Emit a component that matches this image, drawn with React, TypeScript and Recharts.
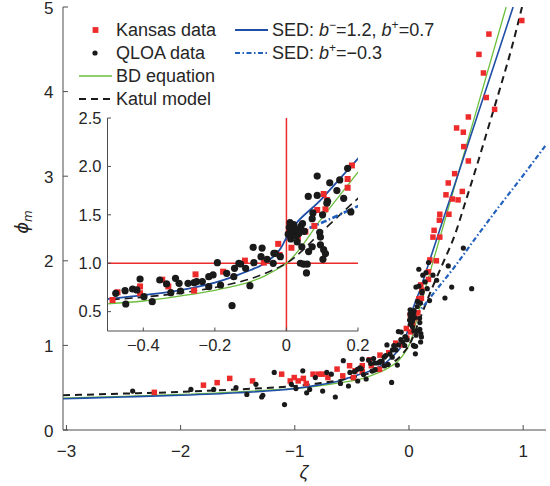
import React from 'react';
import { ComposedChart, Line, Scatter, XAxis, YAxis, ReferenceLine, ReferenceArea } from 'recharts';

const AXIS = '#4d4d4d';
const TXT = '#262626';
const RED = '#ee2b2b';
const BLACK = '#1a1a1a';
const GREEN = '#6cbf3c';
const BLUE = '#1f4ea6';
const BLUE2 = '#2260bd';
const FONT = '"Liberation Sans", Arial, Helvetica, sans-serif';

// ---------- data (zeta, phi_m) ----------
const kansasData: number[][] = [
  [-2.23, 0.445], [-1.8, 0.53], [-1.68, 0.56], [-1.57, 0.61], [-1.37, 0.58], [-1.115, 0.66], [-1.04, 0.58],
  [-1.005, 0.62], [-0.97, 0.58], [-0.925, 0.61], [-0.9, 0.55], [-0.84, 0.66], [-0.79, 0.66], [-0.76, 0.66],
  [-0.71, 0.62], [-0.63, 0.72], [-0.58, 0.64], [-0.52, 0.76],
  [-0.486, 0.62], [-0.472, 0.7], [-0.409, 0.76], [-0.409, 0.69], [-0.347, 0.83], [-0.33, 0.76], [-0.254, 0.885],
  [-0.258, 0.717], [-0.177, 0.913], [-0.116, 1.027], [-0.063, 1.006], [-0.023, 1.2], [-0.019, 1.085], [0.011, 1.36],
  [0.014, 1.16], [0.032, 1.257], [0.053, 1.326], [0.078, 1.385], [0.086, 1.55], [0.104, 1.715], [0.113, 1.653],
  [0.109, 1.557], [0.171, 1.87], [0.171, 1.78], [0.183, 2.01],
  [0.21, 2.28], [0.22, 2.36], [0.24, 2.0], [0.266, 2.48], [0.27, 2.55], [0.27, 2.28], [0.324, 2.78], [0.344, 2.92],
  [0.35, 2.55], [0.38, 2.73], [0.4, 3.03], [0.417, 3.57], [0.43, 2.72], [0.467, 2.82], [0.476, 3.52], [0.48, 3.35],
  [0.52, 3.18], [0.52, 3.7], [0.613, 4.44], [0.652, 4.22], [0.677, 3.93], [0.7, 4.68], [0.75, 3.79], [0.988, 4.84],
];

const qloaData: number[][] = [
  [-2.42, 0.46], [-1.91, 0.48], [-1.71, 0.48], [-1.515, 0.5], [-1.42, 0.42], [-1.34, 0.54], [-1.29, 0.39],
  [-1.28, 0.41], [-1.18, 0.68], [-1.09, 0.3], [-1.03, 0.54], [-0.99, 0.49], [-0.93, 0.7], [-0.896, 0.44],
  [-0.87, 0.48], [-0.82, 0.62], [-0.756, 0.46], [-0.72, 0.68], [-0.68, 0.66], [-0.645, 0.39], [-0.6, 0.55],
  [-0.575, 0.82], [-0.53, 0.52], [-0.517, 0.68],
  [-0.477, 0.689], [-0.449, 0.579], [-0.451, 0.717], [-0.43, 0.734], [-0.418, 0.724], [-0.409, 0.837],
  [-0.398, 0.655], [-0.375, 0.603], [-0.354, 0.827], [-0.335, 0.786], [-0.323, 0.696], [-0.31, 0.844],
  [-0.3, 0.792], [-0.296, 0.713], [-0.275, 0.792], [-0.258, 0.799], [-0.251, 0.81], [-0.235, 0.81],
  [-0.217, 0.758], [-0.217, 0.861], [-0.205, 0.879], [-0.193, 1.006], [-0.184, 0.775], [-0.167, 0.896],
  [-0.152, 0.562], [-0.147, 0.861], [-0.145, 0.947], [-0.133, 0.999], [-0.128, 0.992], [-0.114, 0.947],
  [-0.102, 0.768], [-0.093, 1.164], [-0.091, 1.006], [-0.068, 1.157], [-0.071, 1.068], [-0.054, 1.04],
  [-0.035, 1.102], [-0.037, 0.999], [-0.031, 1.102], [-0.017, 1.068],
  [0.005, 1.3], [0.008, 1.37], [0.012, 1.25], [0.015, 1.34], [0.02, 1.4], [0.022, 1.29], [0.025, 1.35],
  [0.03, 1.22], [0.035, 1.31], [0.04, 1.38], [0.045, 1.41], [0.05, 1.33], [0.043, 1.17], [0.028, 1.28], [0.01, 1.42],
  [0.086, 1.9], [0.121, 1.83], [0.141, 1.75], [0.149, 1.86], [0.171, 1.98], [0.16, 1.67], [0.115, 1.64],
  [0.113, 1.62], [0.074, 1.52], [0.072, 1.46], [0.101, 1.5], [0.095, 1.27], [0.095, 1.19], [0.104, 1.14],
  [0.072, 1.17], [0.062, 1.12], [0.039, 1.0], [0.048, 0.99], [0.056, 0.9], [0.058, 0.99], [0.102, 1.04],
  [0.109, 1.1], [0.18, 1.53], [0.093, 1.32], [0.086, 1.7], [0.061, 1.69],
  [0.21, 1.83], [0.242, 1.77], [0.315, 1.56], [0.344, 1.94], [0.374, 1.69], [0.476, 2.15], [0.549, 1.67],
];

const bdCurve: number[][] = [
  [-3.03, 0.377], [-2.5, 0.397], [-2, 0.42], [-1.5, 0.45], [-1.2, 0.475], [-1, 0.49], [-0.8, 0.52], [-0.6, 0.56],
  [-0.5, 0.58], [-0.4, 0.61], [-0.3, 0.66], [-0.2, 0.72], [-0.15, 0.76], [-0.1, 0.81], [-0.06, 0.87], [-0.03, 0.93],
  [-0.01, 0.975], [0, 1.0], [0.1, 1.47], [0.2, 1.94], [0.4, 2.88], [0.6, 3.82], [0.851, 5.0],
];
const sedCurve: number[][] = [
  [-3.03, 0.37], [-2.5, 0.39], [-2, 0.41], [-1.5, 0.44], [-1, 0.49], [-0.8, 0.53], [-0.6, 0.585], [-0.5, 0.63],
  [-0.4, 0.67], [-0.3, 0.72], [-0.2, 0.8], [-0.15, 0.86], [-0.1, 0.93], [-0.07, 0.98], [-0.05, 1.03], [-0.03, 1.09],
  [-0.015, 1.16], [0, 1.265], [0.1, 1.67], [0.2, 2.08], [0.4, 2.9], [0.6, 3.72], [0.8, 4.54], [0.912, 5.0],
];
const katulCurve: number[][] = [
  [-3.03, 0.41], [-2.5, 0.43], [-2, 0.45], [-1.5, 0.48], [-1, 0.52], [-0.8, 0.55], [-0.6, 0.59], [-0.5, 0.62],
  [-0.4, 0.65], [-0.3, 0.69], [-0.2, 0.75], [-0.15, 0.79], [-0.1, 0.84], [-0.05, 0.91], [-0.02, 0.96], [0, 1.0],
  [0.1, 1.33], [0.2, 1.67], [0.3, 1.98], [0.4, 2.3], [0.5, 2.72], [0.6, 3.15], [0.7, 3.6], [0.8, 4.05], [0.9, 4.52],
  [0.99, 5.0],
];
const sedNegCurve: number[][] = [
  [0, 1.265], [0.1, 1.42], [0.2, 1.59], [0.4, 1.93], [0.6, 2.3], [0.8, 2.66], [1.0, 3.01], [1.2, 3.37],
];

const mainXTicks = [-3, -2, -1, 0, 1];
const mainYTicks = [0, 1, 2, 3, 4, 5];
const insetXTicks = [-0.4, -0.2, 0, 0.2];
const insetYTicks = [0.5, 1.0, 1.5, 2.0, 2.5];

const MAIN_X: [number, number] = [-3.03, 1.2];
const MAIN_Y: [number, number] = [0, 5];
const INSET_X: [number, number] = [-0.5, 0.2];
const INSET_Y: [number, number] = [0.3, 2.5];

const toPts = (a: number[][]) => a.map(([x, y]) => ({ x, y }));
const within = (a: number[][], xd: [number, number], yd: [number, number]) =>
  a.filter(([x, y]) => x >= xd[0] && x <= xd[1] && y >= yd[0] && y <= yd[1]);

const fmtInt = (v: number) => (v < 0 ? '\u2212' + Math.abs(v) : String(v));
const fmtDec1 = (v: number) => v.toFixed(1);
const fmtInsetX = (v: number) => (v === 0 ? '0' : v < 0 ? '\u2212' + Math.abs(v).toFixed(1) : v.toFixed(1));

type TickCfg = {
  side: 'bottom' | 'left' | 'top' | 'right';
  len: number;
  fmt?: (v: number) => string;
  fontSize?: number;
  gap?: number;
  base?: number;
};

const makeTick = (c: TickCfg) => (p: any) => {
  const { x, y, payload } = p;
  const v = payload.value as number;
  let line: React.ReactNode = null;
  let txt: React.ReactNode = null;
  if (c.side === 'bottom') {
    line = <line x1={x} y1={y} x2={x} y2={y - c.len} stroke={AXIS} strokeWidth={1} />;
    if (c.fmt)
      txt = (
        <text x={x} y={y + (c.gap || 0)} textAnchor="middle" fontSize={c.fontSize} fontFamily={FONT} fill={TXT}>
          {c.fmt(v)}
        </text>
      );
  } else if (c.side === 'left') {
    line = <line x1={x} y1={y} x2={x + c.len} y2={y} stroke={AXIS} strokeWidth={1} />;
    if (c.fmt)
      txt = (
        <text x={x - (c.gap || 0)} y={y + (c.base || 0)} textAnchor="end" fontSize={c.fontSize} fontFamily={FONT} fill={TXT}>
          {c.fmt(v)}
        </text>
      );
  } else if (c.side === 'top') {
    line = <line x1={x} y1={y} x2={x} y2={y + c.len} stroke={AXIS} strokeWidth={1} />;
  } else {
    line = <line x1={x} y1={y} x2={x - c.len} y2={y} stroke={AXIS} strokeWidth={1} />;
  }
  return (
    <g>
      {line}
      {txt}
    </g>
  );
};

const squareShape = (s: number) => (p: any) =>
  p.cx == null ? <g /> : <rect x={p.cx - s / 2} y={p.cy - s / 2} width={s} height={s} fill={RED} />;
const dotShape = (r: number) => (p: any) =>
  p.cx == null ? <g /> : <circle cx={p.cx} cy={p.cy} r={r} fill={BLACK} />;

const MainChart = () => (
  <ComposedChart width={550} height={486} margin={{ top: 7, right: 4, bottom: 0, left: 0 }}>
    <XAxis
      dataKey="x"
      type="number"
      domain={MAIN_X}
      ticks={mainXTicks}
      allowDataOverflow
      interval={0}
      height={56}
      tickSize={0}
      tickMargin={0}
      tickLine={false}
      axisLine={{ stroke: AXIS }}
      tick={makeTick({ side: 'bottom', len: 5, fmt: fmtInt, fontSize: 17, gap: 26.5 })}
    />
    <XAxis
      xAxisId="top"
      orientation="top"
      type="number"
      domain={MAIN_X}
      ticks={mainXTicks}
      allowDataOverflow
      interval={0}
      height={0}
      tickSize={0}
      tickMargin={0}
      tickLine={false}
      axisLine={{ stroke: AXIS }}
      tick={makeTick({ side: 'top', len: 5 })}
    />
    <YAxis
      dataKey="y"
      type="number"
      domain={MAIN_Y}
      ticks={mainYTicks}
      allowDataOverflow
      interval={0}
      width={63}
      tickSize={0}
      tickMargin={0}
      tickLine={false}
      axisLine={{ stroke: AXIS }}
      tick={makeTick({ side: 'left', len: 5, fmt: fmtInt, fontSize: 17, gap: 9.5, base: 6.5 })}
    />
    <YAxis
      yAxisId="right"
      orientation="right"
      type="number"
      domain={MAIN_Y}
      ticks={mainYTicks}
      allowDataOverflow
      interval={0}
      width={0}
      tickSize={0}
      tickMargin={0}
      tickLine={false}
      axisLine={{ stroke: AXIS }}
      tick={makeTick({ side: 'right', len: 5 })}
    />
    <Scatter data={toPts(kansasData)} dataKey="y" shape={squareShape(5.5)} isAnimationActive={false} />
    <Scatter data={toPts(qloaData)} dataKey="y" shape={dotShape(2.6)} isAnimationActive={false} />
    <Line data={toPts(bdCurve)} dataKey="y" type="monotone" stroke={GREEN} strokeWidth={1.3} dot={false} isAnimationActive={false} />
    <Line data={toPts(sedCurve)} dataKey="y" type="monotone" stroke={BLUE} strokeWidth={1.6} dot={false} isAnimationActive={false} />
    <Line data={toPts(katulCurve)} dataKey="y" type="monotone" stroke={BLACK} strokeWidth={2} strokeDasharray="7 5" dot={false} isAnimationActive={false} />
    <Line data={toPts(sedNegCurve)} dataKey="y" type="monotone" stroke={BLUE2} strokeWidth={2.2} strokeDasharray="5 2.5 1.5 2.5" dot={false} isAnimationActive={false} />
  </ComposedChart>
);

const INSET_LEFT = 55;
const INSET_TOP = 100;

const InsetChart = () => (
  <ComposedChart width={330} height={262} margin={{ top: 18, right: 27, bottom: 0, left: 0 }}>
    <XAxis
      dataKey="x"
      type="number"
      domain={INSET_X}
      ticks={insetXTicks}
      allowDataOverflow
      interval={0}
      height={31}
      tickSize={0}
      tickMargin={0}
      tickLine={false}
      axisLine={{ stroke: AXIS }}
      tick={makeTick({ side: 'bottom', len: 3.5, fmt: fmtInsetX, fontSize: 16.5, gap: 20 })}
    />
    <XAxis
      xAxisId="top"
      orientation="top"
      type="number"
      domain={INSET_X}
      ticks={insetXTicks}
      allowDataOverflow
      interval={0}
      height={0}
      tickSize={0}
      tickMargin={0}
      tickLine={false}
      axisLine={{ stroke: AXIS }}
      tick={makeTick({ side: 'top', len: 3.5 })}
    />
    <YAxis
      dataKey="y"
      type="number"
      domain={INSET_Y}
      ticks={insetYTicks}
      allowDataOverflow
      interval={0}
      width={52.5}
      tickSize={0}
      tickMargin={0}
      tickLine={false}
      axisLine={{ stroke: AXIS }}
      tick={makeTick({ side: 'left', len: 3.5, fmt: fmtDec1, fontSize: 16.5, gap: 6, base: 5.8 })}
    />
    <YAxis
      yAxisId="right"
      orientation="right"
      type="number"
      domain={INSET_Y}
      ticks={insetYTicks}
      allowDataOverflow
      interval={0}
      width={0}
      tickSize={0}
      tickMargin={0}
      tickLine={false}
      axisLine={{ stroke: AXIS }}
      tick={makeTick({ side: 'right', len: 3.5 })}
    />
    <ReferenceArea x1={INSET_X[0]} x2={INSET_X[1]} y1={INSET_Y[0]} y2={INSET_Y[1]} fill="#ffffff" fillOpacity={1} stroke="none" />
    <ReferenceLine y={1} stroke={RED} strokeWidth={1.5} />
    <ReferenceLine x={0} stroke={RED} strokeWidth={1.5} />
    <Scatter data={toPts(within(kansasData, INSET_X, INSET_Y))} dataKey="y" shape={squareShape(6)} isAnimationActive={false} />
    <Scatter data={toPts(within(qloaData, INSET_X, INSET_Y))} dataKey="y" shape={dotShape(3.6)} isAnimationActive={false} />
    <Line data={toPts(bdCurve)} dataKey="y" type="monotone" stroke={GREEN} strokeWidth={1.3} dot={false} isAnimationActive={false} />
    <Line data={toPts(sedCurve)} dataKey="y" type="monotone" stroke={BLUE} strokeWidth={1.8} dot={false} isAnimationActive={false} />
    <Line data={toPts(katulCurve)} dataKey="y" type="monotone" stroke={BLACK} strokeWidth={1.6} strokeDasharray="8 5" dot={false} isAnimationActive={false} />
    <Line data={toPts(sedNegCurve)} dataKey="y" type="monotone" stroke={BLUE2} strokeWidth={2.6} strokeDasharray="6 2.5 1.5 2.5" dot={false} isAnimationActive={false} />
  </ComposedChart>
);

const LF = 18;
const Legend = () => {
  const rows = [30, 53, 76, 99];
  const tx1 = 116;
  const tx2 = 272;
  const common = { fontSize: LF, fontFamily: FONT, fill: TXT } as const;
  return (
    <g>
      <rect x={95.5 - 2.9} y={rows[0] - 2.9} width={5.8} height={5.8} fill={RED} />
      <text x={tx1} y={rows[0] + 6} {...common}>Kansas data</text>
      <circle cx={95} cy={rows[1]} r={2.6} fill={BLACK} />
      <text x={tx1} y={rows[1] + 6} {...common}>QLOA data</text>
      <line x1={79} y1={rows[2]} x2={112} y2={rows[2]} stroke={GREEN} strokeWidth={1.5} />
      <text x={tx1} y={rows[2] + 6} {...common}>BD equation</text>
      <line x1={79} y1={rows[3]} x2={112} y2={rows[3]} stroke={BLACK} strokeWidth={2} strokeDasharray="7 5" />
      <text x={tx1} y={rows[3] + 6} {...common}>Katul model</text>
      <line x1={235} y1={rows[0]} x2={268} y2={rows[0]} stroke={BLUE} strokeWidth={1.8} />
      <text x={tx2} y={rows[0] + 6} {...common}>
        SED: <tspan fontStyle="italic">b</tspan>
        <tspan fontSize={12} dy={-7}>{'\u2212'}</tspan>
        <tspan dy={7}>=1.2, </tspan>
        <tspan fontStyle="italic">b</tspan>
        <tspan fontSize={12} dy={-7}>+</tspan>
        <tspan dy={7}>=0.7</tspan>
      </text>
      <line x1={235} y1={rows[1]} x2={268} y2={rows[1]} stroke={BLUE2} strokeWidth={2.2} strokeDasharray="5 2.5 1.5 2.5" />
      <text x={tx2} y={rows[1] + 6} {...common}>
        SED: <tspan fontStyle="italic">b</tspan>
        <tspan fontSize={12} dy={-7}>+</tspan>
        <tspan dy={7}>={'\u2212'}0.3</tspan>
      </text>
    </g>
  );
};

export default function App() {
  return (
    <div style={{ position: 'fixed', left: 0, top: 0, width: 550, height: 486, background: '#fff', overflow: 'hidden' }}>
      <div style={{ position: 'absolute', left: 0, top: 0 }}>
        <MainChart />
      </div>
      <div style={{ position: 'absolute', left: INSET_LEFT, top: INSET_TOP }}>
        <InsetChart />
      </div>
      <svg width={550} height={486} style={{ position: 'absolute', left: 0, top: 0, pointerEvents: 'none' }}>
        <Legend />
        <text x={304} y={478} textAnchor="middle" fontSize={19} fontStyle="italic" fontFamily={FONT} fill={TXT}>
          {'\u03B6'}
        </text>
        <text transform="translate(28,222) rotate(-90)" textAnchor="middle" fontSize={18} fontStyle="italic" fontFamily={'"DejaVu Sans", ' + FONT} fill={TXT}>
          {'\u03D5'}
          <tspan fontSize={12} dy={4}>m</tspan>
        </text>
      </svg>
    </div>
  );
}
